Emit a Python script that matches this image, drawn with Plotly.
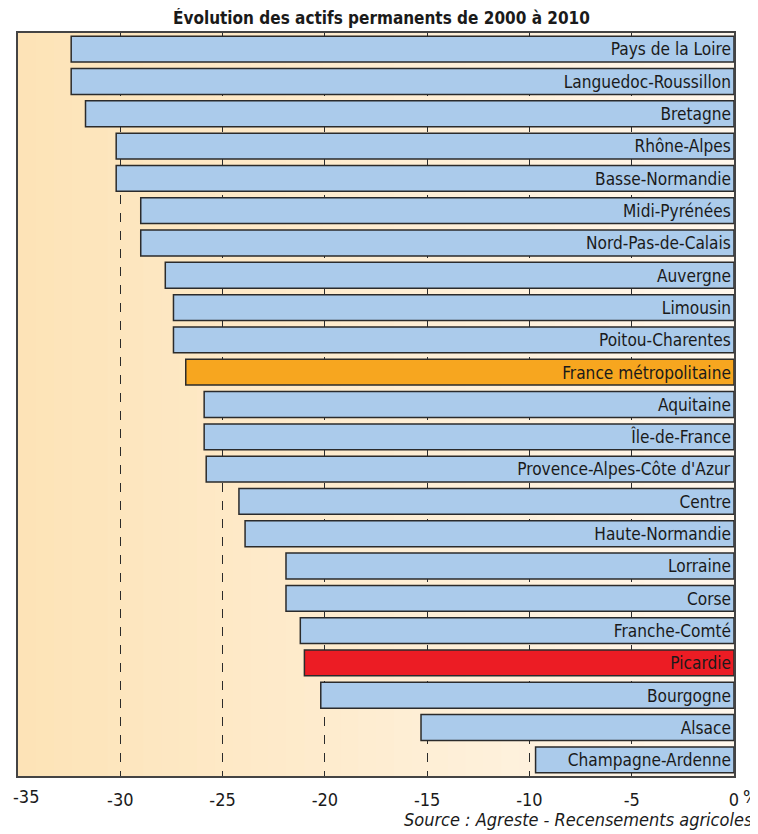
"""Évolution des actifs permanents de 2000 à 2010 — horizontal bar chart."""
import plotly.graph_objects as go

REGIONS = [
    "Pays de la Loire", "Languedoc-Roussillon", "Bretagne", "Rhône-Alpes",
    "Basse-Normandie", "Midi-Pyrénées", "Nord-Pas-de-Calais", "Auvergne",
    "Limousin", "Poitou-Charentes", "France métropolitaine", "Aquitaine",
    "Île-de-France", "Provence-Alpes-Côte d'Azur", "Centre", "Haute-Normandie",
    "Lorraine", "Corse", "Franche-Comté", "Picardie", "Bourgogne", "Alsace",
    "Champagne-Ardenne",
]
VALUES = [
    -32.4, -32.4, -31.7, -30.2, -30.2, -29.0, -29.0, -27.8, -27.4, -27.4,
    -26.8, -25.9, -25.9, -25.8, -24.2, -23.9, -21.9, -21.9, -21.2, -21.0,
    -20.2, -15.3, -9.7,
]
TICKS = [-35, -30, -25, -20, -15, -10, -5, 0]
# first label is drawn as an annotation so it stays inside the page
TICK_TEXT = ["", "-30", "-25", "-20", "-15", "-10", "-5", "0"]

BLUE = "#abcbeb"
ORANGE = "#f7a61f"
RED = "#ec1c24"
FONT = "Liberation Sans Narrow, DejaVu Sans Condensed, Arial Narrow, sans-serif"
TXT = "#1a1a1a"


def bar_color(name):
    if name == "France métropolitaine":
        return ORANGE
    if name == "Picardie":
        return RED
    return BLUE


fig = go.Figure()
fig.add_bar(
    x=VALUES, y=REGIONS, orientation="h",
    marker=dict(color=[bar_color(r) for r in REGIONS], line=dict(color="#2b2b2b", width=1.5)),
    text=REGIONS, textposition="inside", insidetextanchor="start", textangle=0,
    textfont=dict(family=FONT, size=19, color=TXT),
    hoverinfo="x+y",
)

# warm gradient background (left: orange tint, right: almost white)
n = 40
c0, c1 = (253, 227, 183), (255, 247, 236)
for i in range(n):
    t = i / (n - 1)
    col = tuple(round(a + (b - a) * t) for a, b in zip(c0, c1))
    fig.add_shape(type="rect", xref="paper", yref="paper", layer="below",
                  x0=i / n, x1=(i + 1) / n + 0.002, y0=0, y1=1,
                  line=dict(width=0), fillcolor="rgb(%d,%d,%d)" % col)

fig.update_xaxes(
    range=[-35, 0], tickvals=TICKS, ticktext=TICK_TEXT,
    showgrid=True, gridcolor="#2b2b2b", gridwidth=1, griddash="dash",
    zeroline=False, showline=True, linecolor="#444", linewidth=1.5, mirror=True,
    ticks="", ticklabelstandoff=7, automargin=False, ticklabeloverflow="allow",
    tickfont=dict(family=FONT, size=18, color=TXT),
)
fig.update_yaxes(
    autorange="reversed", showticklabels=False, showgrid=False, zeroline=False,
    showline=True, linecolor="#444", linewidth=1.5, mirror=True, ticks="",
    automargin=False,
)

fig.add_annotation(text=str(TICKS[0]), xref="x", yref="paper", x=TICKS[0], y=0,
                   xanchor="left", yanchor="top", xshift=-7, yshift=-8, showarrow=False,
                   font=dict(family=FONT, size=18, color=TXT))
fig.add_annotation(text="<b>Évolution des actifs permanents de 2000 à 2010</b>",
                   xref="paper", yref="paper", x=0.507, y=1, yanchor="bottom", yshift=3,
                   showarrow=False, font=dict(family=FONT, size=17, color=TXT))
fig.add_annotation(text="%", xref="paper", yref="paper", x=1, y=0, xanchor="left",
                   yanchor="top", xshift=7, yshift=-8, showarrow=False,
                   font=dict(family=FONT, size=18, color=TXT))
fig.add_annotation(text="<i>Source : Agreste - Recensements agricoles</i>",
                   xref="paper", yref="paper", x=1, y=0, xanchor="right", yanchor="top",
                   xshift=21, yshift=-31, showarrow=False,
                   font=dict(family=FONT, size=18, color=TXT))

# the page body adds an 8px offset, so the figure is 8px smaller than the window
fig.update_layout(
    width=750, height=826, bargap=0.2, showlegend=False,
    margin=dict(l=10, r=24, t=25, b=58, autoexpand=False),
    paper_bgcolor="white", plot_bgcolor="white",
    font=dict(family=FONT),
)

fig.write_html("out.html")
